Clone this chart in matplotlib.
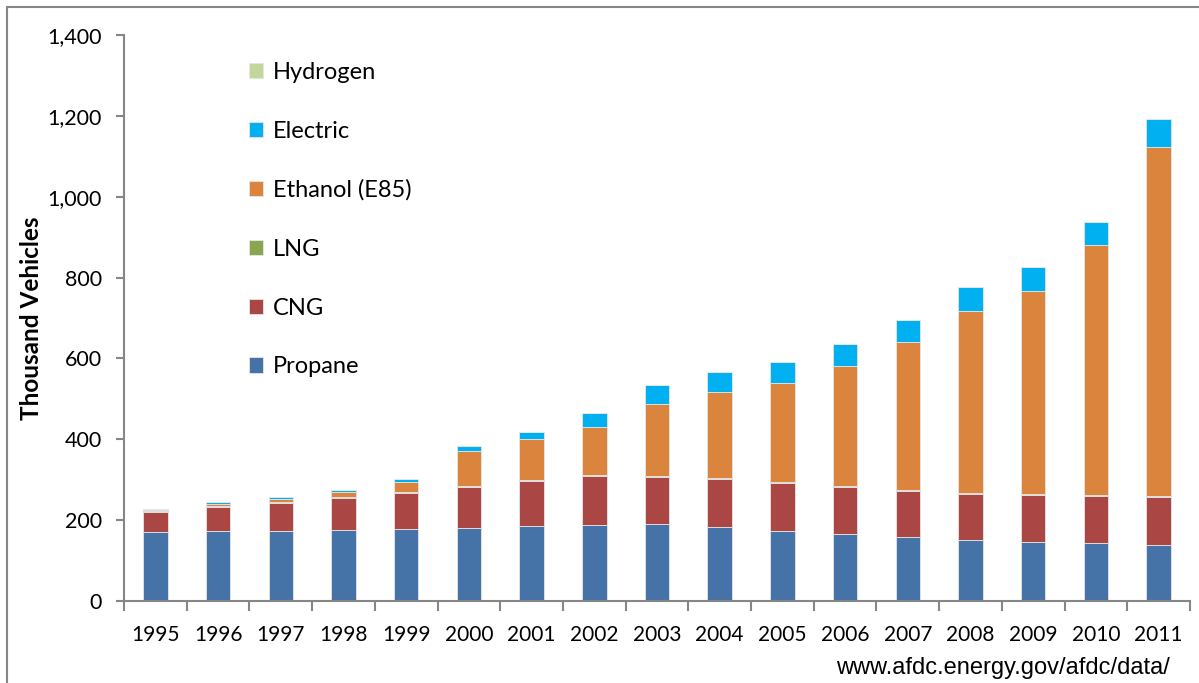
import matplotlib.pyplot as plt
import numpy as np
from matplotlib.patches import Rectangle

years = ['1995', '1996', '1997', '1998', '1999', '2000', '2001', '2002', '2003',
         '2004', '2005', '2006', '2007', '2008', '2009', '2010', '2011']

# thousand vehicles
propane = [171, 174, 174, 176, 177, 181, 185, 187, 190, 182, 172, 165, 158, 151, 147, 143, 139]
cng = [50, 59, 69, 80, 91, 102, 112, 121, 116, 119, 119, 116, 114, 113, 114, 116, 118]
lng = [1, 1, 1, 1, 2, 2, 3, 3, 3, 3, 3, 3, 3, 3, 3, 3, 3]
ethanol = [2, 6, 8, 13, 25, 87, 100, 120, 178, 212, 246, 297, 365, 451, 504, 619, 864]
electric = [3, 4, 5, 5, 7, 11, 18, 33, 47, 50, 52, 54, 56, 58, 57, 57, 67]
hydrogen = [0.1, 0.1, 0.1, 0.1, 0.1, 0.1, 0.1, 0.1, 0.1, 0.2, 0.2, 0.2, 0.2, 0.3, 0.3, 0.4, 0.5]

series = [
    ('Propane', propane, '#4572A7'),
    ('CNG', cng, '#AA4643'),
    ('LNG', lng, '#89A54E'),
    ('Ethanol (E85)', ethanol, '#DB843D'),
    ('Electric', electric, '#00B0F0'),
    ('Hydrogen', hydrogen, '#C3D69B'),
]

font = 'Lato'
fig = plt.figure(figsize=(11.99, 6.83), dpi=100)
ax = fig.add_axes([124 / 1199, 1 - 601 / 683, (1190 - 124) / 1199, (601 - 35) / 683])

x = np.arange(len(years))
bottom = np.zeros(len(years))
handles = []
for name, vals, color in series:
    b = ax.bar(x, vals, width=0.39, bottom=bottom, color=color, label=name,
               edgecolor='#e6e6e6', linewidth=0.6)
    handles.append(b)
    bottom += np.array(vals)

ax.set_xlim(-0.5, len(years) - 0.5)
ax.set_ylim(0, 1400)
ax.set_yticks(range(0, 1401, 200))
ax.set_yticklabels([f'{v:,}' for v in range(0, 1401, 200)], fontsize=15.5, family=font)
ax.set_xticks(x)
ax.set_xticklabels(years, fontsize=15, family=font)
ax.set_xticks(np.arange(-0.5, len(years)), minor=True)
ax.tick_params(axis='x', which='major', length=0, pad=17)
ax.tick_params(axis='x', which='minor', length=7, width=1.5, color='#868686', direction='out')
ax.tick_params(axis='y', length=6, width=1.5, color='#868686', pad=10)

for s in ['top', 'right']:
    ax.spines[s].set_visible(False)
for s in ['left', 'bottom']:
    ax.spines[s].set_color('#868686')
    ax.spines[s].set_linewidth(1.5)

ax.set_ylabel('Thousand Vehicles', fontsize=17.5, fontweight='bold', family=font, labelpad=3)

leg = ax.legend(handles[::-1], [s[0] for s in series][::-1], loc='upper left',
                bbox_to_anchor=(0.097, 0.99), frameon=False,
                labelspacing=1.6, handlelength=0.62, handleheight=0.62,
                handletextpad=0.42, prop={'family': font, 'size': 17})

fig.text(1170 / 1199, 1 - 668 / 683, 'www.afdc.energy.gov/afdc/data/', ha='right', va='center',
         fontsize=17, family='Liberation Sans')

# outer frame like the original chart area border
fig.patches.append(Rectangle((7 / 1199, -0.1), 1.2, 1 - 7 / 683 + 0.1, transform=fig.transFigure,
                             fill=False, edgecolor='#868686', linewidth=1.5))

fig.savefig('out.png', dpi=100)
